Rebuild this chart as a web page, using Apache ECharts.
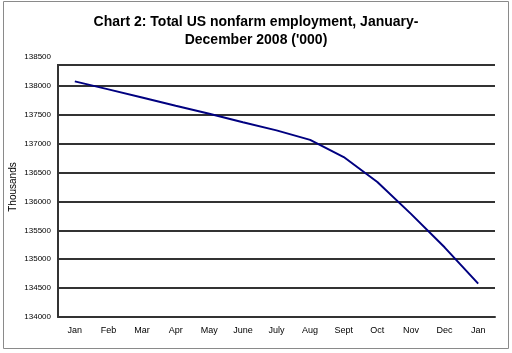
<!DOCTYPE html>
<html>
<head>
<meta charset="utf-8">
<script src="https://cdn.jsdelivr.net/npm/echarts@6/dist/echarts.min.js"></script>
<style>
  html, body { margin: 0; padding: 0; background: #fff; }
  #chart-box { width: 512px; height: 353px; }
</style>
</head>
<body>
<div id="chart-box"></div>
<script>
// months shown on the x axis (Jan 2008 .. Jan 2009)
const months = ['Jan', 'Feb', 'Mar', 'Apr', 'May', 'June', 'July', 'Aug', 'Sept', 'Oct', 'Nov', 'Dec', 'Jan']
// nonfarm employment, thousands
const employment = [138078, 137940, 137800, 137655, 137517, 137370, 137230, 137066, 136768, 136336, 135785, 135206, 134578]
// y axis range
const yMin = 134000
const yMax = 138500
const yStep = 500
// the plot frame top sits a little below the 138500 tick in the original
const frameTop = 138358

let chart = echarts.init(document.getElementById('chart-box'))
chart.setOption({
    animation: false,
    title: {
        text: "Chart 2: Total US nonfarm employment, January-\nDecember 2008 ('000)",
        left: 'center',
        top: 8,
        textStyle: {
            fontFamily: 'Liberation Sans, Arial, sans-serif',
            fontSize: 14,
            fontWeight: 'bold',
            color: '#000',
            lineHeight: 18
        }
    },
    grid: {left: 58, right: 17, top: 57, bottom: 36, outerBoundsMode: 'none'},
    xAxis: {
        type: 'category',
        data: months,
        boundaryGap: true,
        axisLine: {lineStyle: {color: '#333', width: 2}},
        axisTick: {show: false},
        axisLabel: {
            color: '#000',
            fontSize: 9,
            margin: 9,
            fontFamily: 'Liberation Sans, Arial, sans-serif'
        }
    },
    yAxis: {
        type: 'value',
        min: yMin,
        max: yMax,
        interval: yStep,
        name: 'Thousands',
        nameLocation: 'middle',
        nameGap: 40,
        nameMoveOverlap: false,
        nameTextStyle: {color: '#000', fontSize: 10, fontFamily: 'Liberation Sans, Arial, sans-serif'},
        axisLine: {show: true, lineStyle: {color: '#333', width: 2}},
        axisTick: {show: false},
        axisLabel: {
            color: '#000',
            fontSize: 8,
            margin: 7,
            formatter: v => String(v),
            fontFamily: 'Liberation Sans, Arial, sans-serif'
        },
        splitLine: {show: true, showMaxLine: false, lineStyle: {color: '#333', width: 2}}
    },
    series: [{
        type: 'line',
        data: employment,
        symbol: 'none',
        lineStyle: {color: '#000080', width: 2},
        markLine: {
            silent: true,
            symbol: 'none',
            label: {show: false},
            lineStyle: {color: '#333', width: 2, type: 'solid'},
            data: [{yAxis: frameTop}]
        }
    }],
    graphic: [
        // outer frame of the picture
        {type: 'rect', shape: {x: 3.5, y: 1.5, width: 505, height: 347}, style: {fill: 'none', stroke: '#8a8a8a', lineWidth: 1}},
        // hide the bit of y axis line above the frame top
        {type: 'rect', shape: {x: 55, y: 54, width: 6, height: 10}, style: {fill: '#fff'}, z: 100}
    ]
})
</script>
</body>
</html>
